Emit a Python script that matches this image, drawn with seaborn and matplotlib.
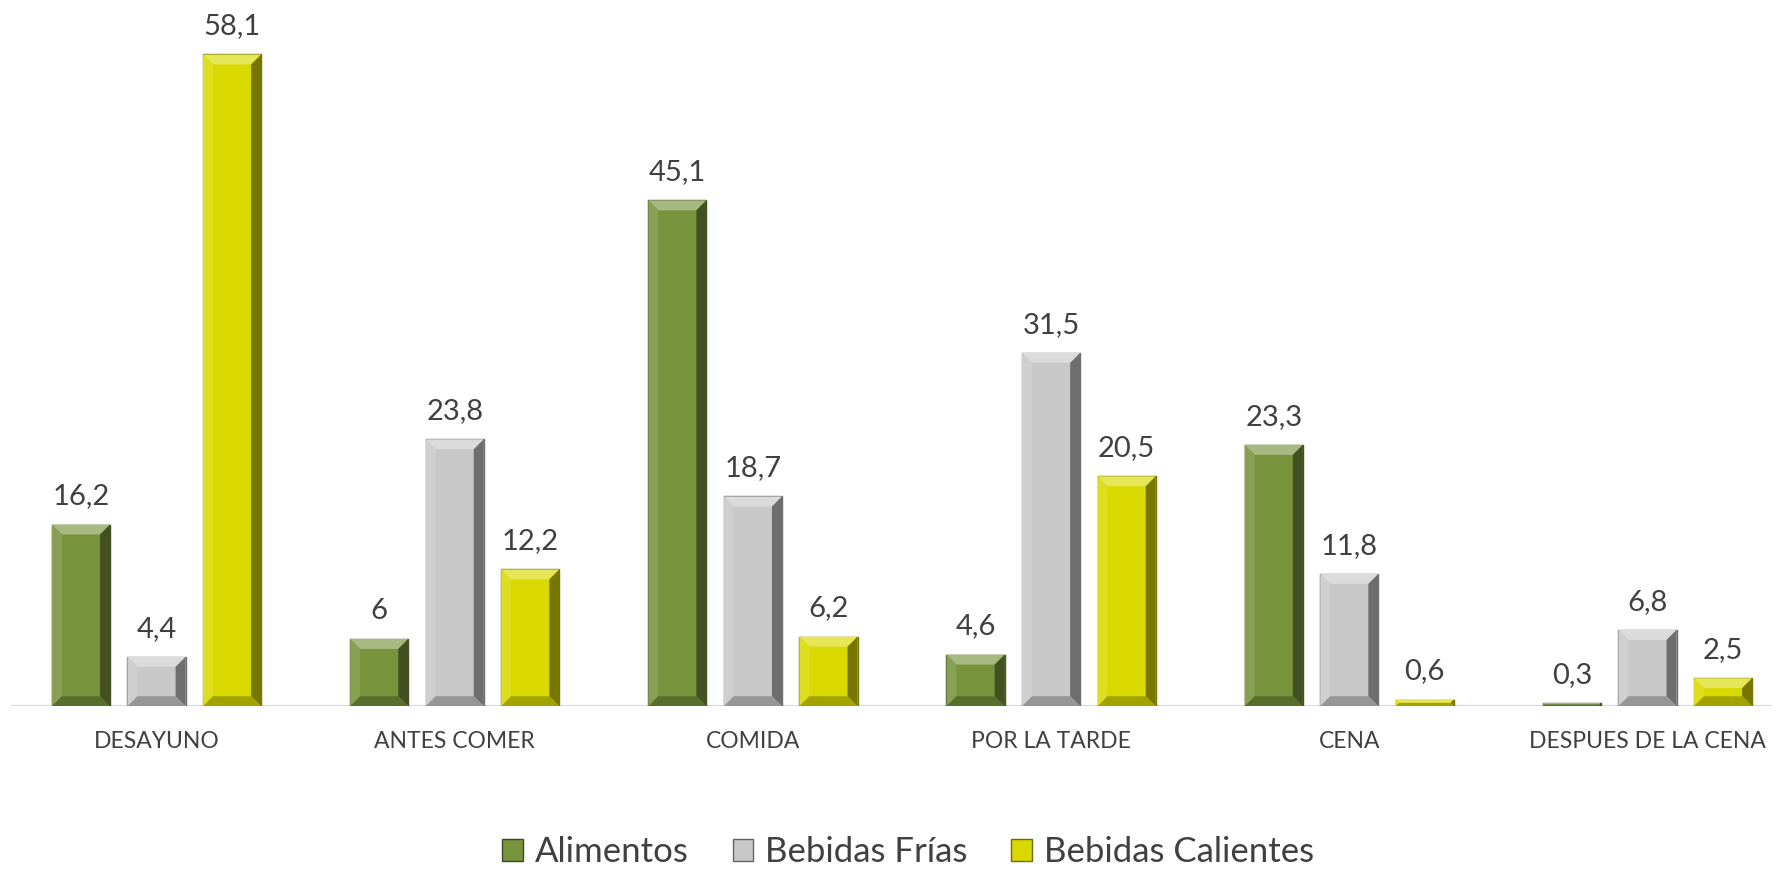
import numpy as np
import pandas as pd
import matplotlib
matplotlib.use("Agg")
import matplotlib.pyplot as plt
import seaborn as sns
from matplotlib.patches import Polygon, Patch
from matplotlib.colors import to_rgb

# datos
momentos = ["DESAYUNO", "ANTES COMER", "COMIDA", "POR LA TARDE", "CENA", "DESPUES DE LA CENA"]
series = ["Alimentos", "Bebidas Frías", "Bebidas Calientes"]
alimentos = [16.2, 6, 45.1, 4.6, 23.3, 0.3]
bebidas_frias = [4.4, 23.8, 18.7, 31.5, 11.8, 6.8]
bebidas_calientes = [58.1, 12.2, 6.2, 20.5, 0.6, 2.5]

colores = ["#77933C", "#C8C8C8", "#D9D900"]

df = pd.DataFrame({
    "momento": momentos * 3,
    "serie": [s for s in series for _ in momentos],
    "valor": alimentos + bebidas_frias + bebidas_calientes,
})

sns.set_style("white")
plt.rcParams["font.family"] = ["Lato", "DejaVu Sans"]

fig = plt.figure(figsize=(17.81, 8.73), dpi=100)
ax = fig.add_axes([0.006, 0.191, 0.989, 0.771])

sns.barplot(data=df, x="momento", y="valor", hue="serie", order=momentos,
            hue_order=series, palette=colores, width=0.76, gap=0.23,
            saturation=1, legend=False, ax=ax)

ax.set_ylim(0, 60)
ax.set_xlim(-0.489, 5.418)


def mezclar(c, otro, t):
    c = np.array(to_rgb(c))
    return tuple(c * (1 - t) + np.array(otro) * t)


# efecto bisel (como en Excel)
fig.canvas.draw()
to_px = ax.transData
to_data = ax.transData.inverted()
bevel_px = 10
for bar in ax.patches:
    x0, y0 = bar.get_x(), bar.get_y()
    x1, y1 = x0 + bar.get_width(), y0 + bar.get_height()
    (px0, py0), (px1, py1) = to_px.transform([(x0, y0), (x1, y1)])
    b = min(bevel_px, (py1 - py0) / 2, (px1 - px0) / 2)
    base = bar.get_facecolor()
    bar.set_edgecolor(mezclar(base, (0, 0, 0), 0.45))
    bar.set_linewidth(1.0)
    if b < 0.5:
        continue
    ix0, ix1, iy0, iy1 = px0 + b, px1 - b, py0 + b, py1 - b
    caras = [
        ([(px0, py1), (px1, py1), (ix1, iy1), (ix0, iy1)], mezclar(base, (1, 1, 1), 0.35)),
        ([(px0, py0), (px0, py1), (ix0, iy1), (ix0, iy0)], mezclar(base, (1, 1, 1), 0.12)),
        ([(px1, py0), (px1, py1), (ix1, iy1), (ix1, iy0)], mezclar(base, (0, 0, 0), 0.45)),
        ([(px0, py0), (px1, py0), (ix1, iy0), (ix0, iy0)], mezclar(base, (0, 0, 0), 0.25)),
    ]
    for pts, col in caras:
        ax.add_patch(Polygon(to_data.transform(pts), closed=True, facecolor=col,
                             edgecolor="none", zorder=bar.get_zorder() + 0.1))

# etiquetas de valor
for cont in ax.containers:
    etiquetas = [f"{v:g}".replace(".", ",") for v in cont.datavalues]
    ax.bar_label(cont, labels=etiquetas, padding=11, fontsize=21, color="#404040")

ax.axhline(0, color="#D9D9D9", linewidth=1.5, zorder=0)
sns.despine(ax=ax, left=True, bottom=True)
ax.set_yticks([])
ax.set_xlabel("")
ax.set_ylabel("")
ax.tick_params(axis="x", length=0, pad=18, labelsize=16.5, labelcolor="#404040")

manijas = [Patch(facecolor=c, edgecolor=mezclar(c, (0, 0, 0), 0.5)) for c in colores]
fig.legend(manijas, series, loc="center", bbox_to_anchor=(0.51, 0.024), ncol=3,
           frameon=False, fontsize=25, labelcolor="#404040", handlelength=0.6,
           handleheight=0.6, handletextpad=0.35, columnspacing=1.25)

fig.savefig("out.png", dpi=100)
